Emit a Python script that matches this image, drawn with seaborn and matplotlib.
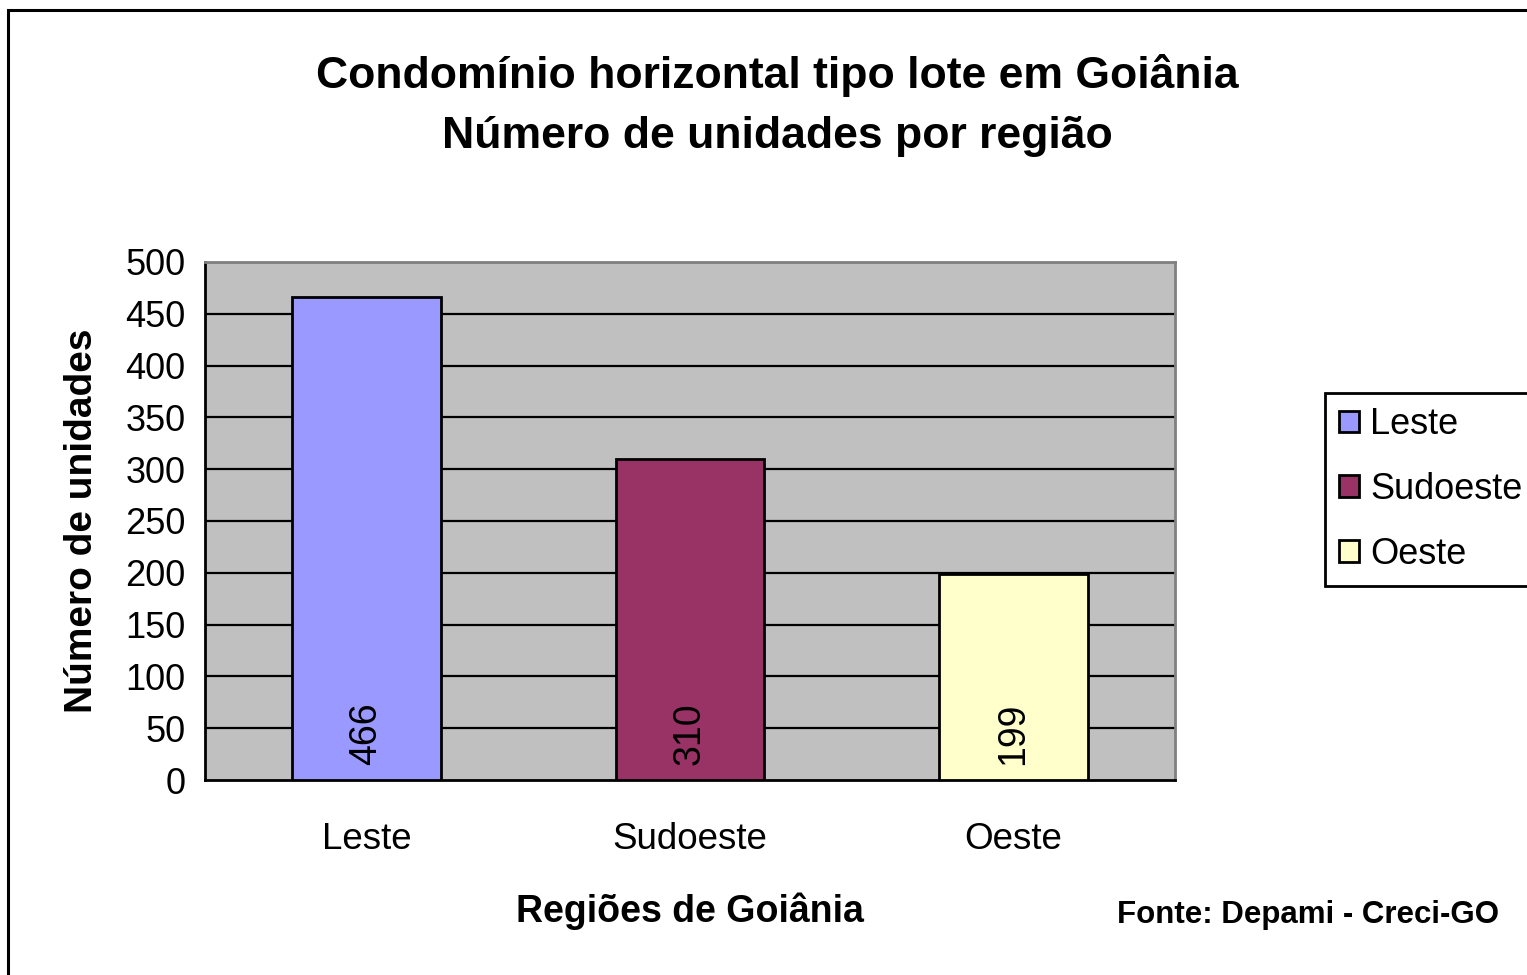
import matplotlib
matplotlib.use("Agg")
import matplotlib.pyplot as plt
import matplotlib.patches as mpatches
import seaborn as sns
import pandas as pd

# Data
regioes = ["Leste", "Sudoeste", "Oeste"]
unidades = [466, 310, 199]
cores = ["#9999FF", "#993366", "#FFFFCC"]
yticks = [0, 50, 100, 150, 200, 250, 300, 350, 400, 450, 500]

df = pd.DataFrame({"Regiao": regioes, "Unidades": unidades})

sns.set_style("white")
plt.rcParams["font.family"] = ["Liberation Sans", "DejaVu Sans"]
plt.rcParams["text.color"] = "black"
plt.rcParams["xtick.color"] = "black"
plt.rcParams["ytick.color"] = "black"
plt.rcParams["axes.labelcolor"] = "black"

fig = plt.figure(figsize=(15.27, 9.75), dpi=100)
ax = fig.add_axes([0.1342, 0.2, 0.6353, 0.5313])

sns.barplot(data=df, x="Regiao", y="Unidades", hue="Regiao",
            palette=cores, saturation=1, width=0.46, edgecolor="black", linewidth=2,
            legend=False, ax=ax, zorder=3)

ax.set_facecolor("#C0C0C0")
ax.set_ylim(0, 500)
ax.set_xlim(-0.5, 2.5)
ax.set_yticks(yticks)
ax.set_yticklabels([str(t) for t in yticks], fontsize=26)
for t in yticks[1:]:
    ax.axhline(t, color="black", lw=1.6, zorder=1)

# x ticks at category boundaries, labels in the middle
ax.set_xticks([-0.5, 0.5, 1.5, 2.5])
ax.set_xticklabels([])
ax.set_xticks([0, 1, 2], minor=True)
ax.set_xticklabels(regioes, minor=True, fontsize=26.5)
ax.tick_params(axis="x", which="major", length=10, width=1.6, color="black", direction="out")
ax.tick_params(axis="x", which="minor", length=0, pad=30)
ax.tick_params(axis="y", length=10, width=1.6, color="black", direction="out", pad=4)

for s in ["left", "bottom"]:
    ax.spines[s].set_color("black")
    ax.spines[s].set_linewidth(2)
for s in ["top", "right"]:
    ax.spines[s].set_color("#808080")
    ax.spines[s].set_linewidth(2)

# value labels inside the bars
for i, v in enumerate(unidades):
    ax.text(i, 14, str(v), rotation=90, ha="center", va="bottom", fontsize=27, zorder=4)

ax.set_ylabel("Número de unidades", fontsize=28, fontweight="bold", labelpad=18)
ax.set_xlabel("Regiões de Goiânia", fontsize=27, fontweight="bold", labelpad=26)

fig.text(0.509, 0.892, "Condomínio horizontal tipo lote em Goiânia\nNúmero de unidades por região",
         ha="center", va="center", fontsize=32, fontweight="bold", linespacing=1.6)

fig.text(0.982, 0.062, "Fonte: Depami - Creci-GO", ha="right", va="center",
         fontsize=22.5, fontweight="bold")

handles = [mpatches.Patch(facecolor=c, edgecolor="black", linewidth=2, label=r)
           for c, r in zip(cores, regioes)]
leg = fig.legend(handles=handles, loc="upper left", bbox_to_anchor=(0.8677, 0.597),
                 fontsize=26, frameon=True, fancybox=False, edgecolor="black",
                 framealpha=1, handlelength=0.55, handleheight=0.55, handletextpad=0.3,
                 labelspacing=0.82, borderpad=0.4, borderaxespad=0)
leg.get_frame().set_linewidth(2)

# outer chart frame
fig.patches.append(mpatches.Rectangle((8 / 1527, -0.1), 1.2, 0.1 + 1 - 10 / 975,
                                      transform=fig.transFigure, fill=False,
                                      edgecolor="black", linewidth=2.2))

plt.savefig("out.png", dpi=100)
